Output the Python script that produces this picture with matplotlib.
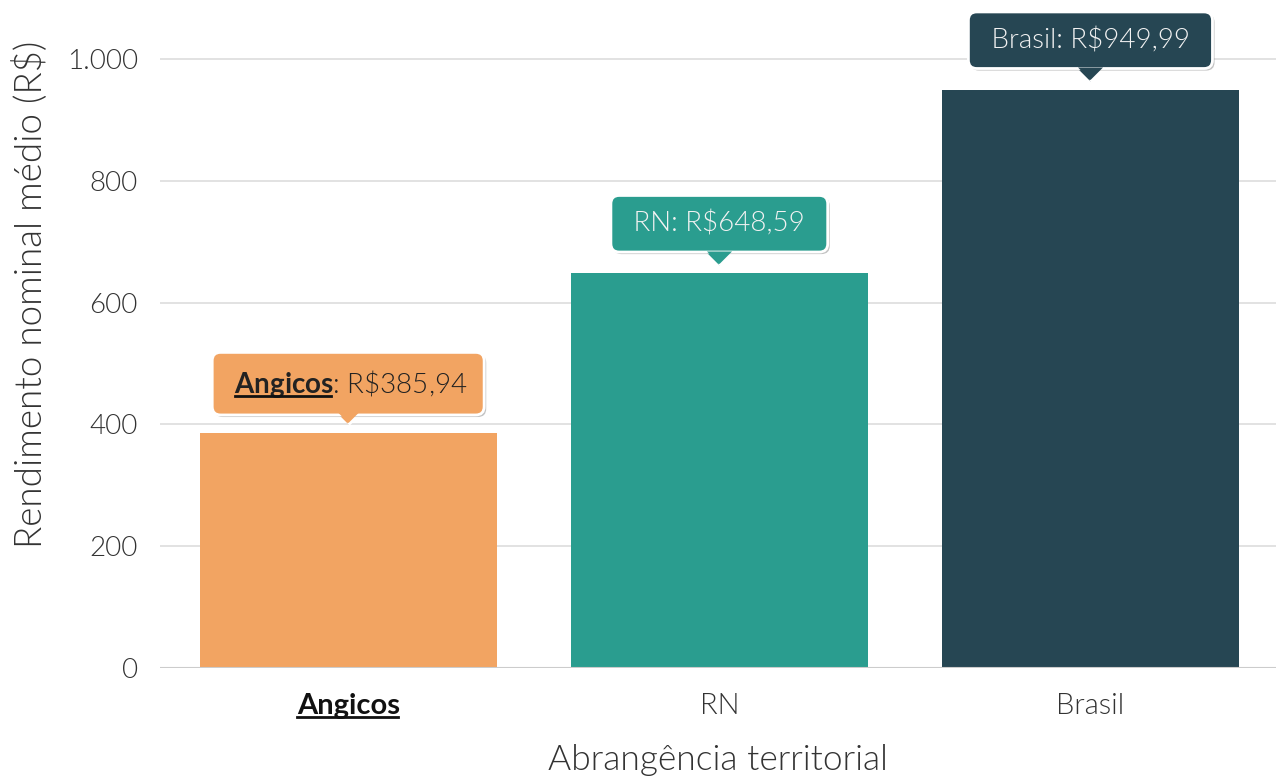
import matplotlib
matplotlib.use("Agg")
import matplotlib.pyplot as plt
import matplotlib.patheffects as pe
from matplotlib.lines import Line2D
from matplotlib.transforms import offset_copy

plt.rcParams['font.family'] = ['Lato', 'DejaVu Sans']
plt.rcParams['mathtext.fontset'] = 'custom'
plt.rcParams['mathtext.bf'] = 'Lato:bold'

LIGHT = 300
TIP_FS = 20

# data
categories = ['Angicos', 'RN', 'Brasil']
values = [385.94, 648.59, 949.99]
colors = ['#F2A462', '#2A9D8F', '#264653']
text_colors = ['#222222', '#F2F2F2', '#F2F2F2']
yticks = [0, 200, 400, 600, 800, 1000]
ytick_labels = ['0', '200', '400', '600', '800', '1.000']

fig = plt.figure(figsize=(12.76, 7.82), dpi=100)
ax = fig.add_axes([0.1254, 0.1458, 0.8746, 0.8542])

x = range(len(categories))
ax.bar(x, values, width=0.8, color=colors, zorder=2)

ax.set_xlim(-0.507, 2.5)
ax.set_ylim(0, 1097)
ax.set_yticks(yticks)
ax.set_yticklabels(ytick_labels)
ax.yaxis.grid(True, color='#dddddd', linewidth=1.2, zorder=0)
ax.set_axisbelow(True)
ax.axhline(0, color='#cccccc', linewidth=1.5, zorder=3)
for s in ax.spines.values():
    s.set_visible(False)
ax.tick_params(axis='both', length=0, colors='#333333')
ax.tick_params(axis='y', pad=16, labelsize=20)
ax.tick_params(axis='x', pad=18, labelsize=21)

ax.set_xticks(list(x))
ax.set_xticklabels(categories)
for t in ax.get_yticklabels() + ax.get_xticklabels():
    t.set_fontweight(LIGHT)
ax.get_xticklabels()[0].set_fontweight('bold')
ax.get_xticklabels()[0].set_color('#111111')

ax.set_ylabel('Rendimento nominal médio (R$)', fontsize=26.5, fontweight=LIGHT,
              color='#333333')
ax.yaxis.set_label_coords(-0.1, 0.56)
ax.set_xlabel('Abrangência territorial', fontsize=25.5, fontweight=LIGHT,
              color='#333333', labelpad=18)

# tooltips
anns = []
for i, (cat, v, c, tc) in enumerate(zip(categories, values, colors, text_colors)):
    val = f'{v:.2f}'.replace('.', ',')
    if i == 0:
        label = r' $\mathbf{' + cat + r'}$: R\$' + val + ' '
    else:
        label = f' {cat}: R\\${val} '
    tr = offset_copy(ax.transData, fig=fig, x=0, y=16.2, units='points')
    tri = [(-1, 0), (1, 0), (0, -1)]
    ax.plot([i], [v], marker=tri, ms=20, color=c, mec='white', mew=2.5,
            transform=tr, zorder=4, clip_on=False)
    ann = ax.annotate(label, xy=(i, v), xytext=(0, 35.5), textcoords='offset points',
                      ha='center', va='center', fontsize=TIP_FS, fontweight=LIGHT,
                      color=tc, zorder=5, annotation_clip=False,
                      bbox=dict(boxstyle='round,pad=0.55,rounding_size=0.3',
                                fc=c, ec='white', lw=2))
    ann.get_bbox_patch().set_path_effects([
        pe.SimplePatchShadow(offset=(1.5, -1.5), shadow_rgbFace='#888888', alpha=0.5),
        pe.Normal()])
    ax.plot([i], [v], marker=tri, ms=18, color=c, mec=c, mew=0,
            transform=tr, zorder=6, clip_on=False)
    anns.append(ann)

# underlines for "Angicos"
fig.canvas.draw()
r = fig.canvas.get_renderer()
tick = ax.get_xticklabels()[0]
bb = tick.get_window_extent(r)
fig.add_artist(Line2D([bb.x0, bb.x1 - 2], [bb.y0 + 2, bb.y0 + 2], color='#111111',
                      lw=2, transform=None))

tmp_sp = fig.text(0, 0, ' ', fontsize=TIP_FS, fontweight=LIGHT)
tmp_b = fig.text(0, 0, 'Angicos', fontsize=TIP_FS, fontweight='bold')
sp_w = tmp_sp.get_window_extent(r).width
b_w = tmp_b.get_window_extent(r).width
tmp_sp.remove()
tmp_b.remove()
abb = anns[0].get_window_extent(r)
ax.add_artist(Line2D([abb.x0 + sp_w, abb.x0 + sp_w + b_w - 2], [abb.y0 + 4, abb.y0 + 4],
                     color='#111111', lw=2, transform=None, zorder=7))

fig.savefig('out.png', dpi=100)
